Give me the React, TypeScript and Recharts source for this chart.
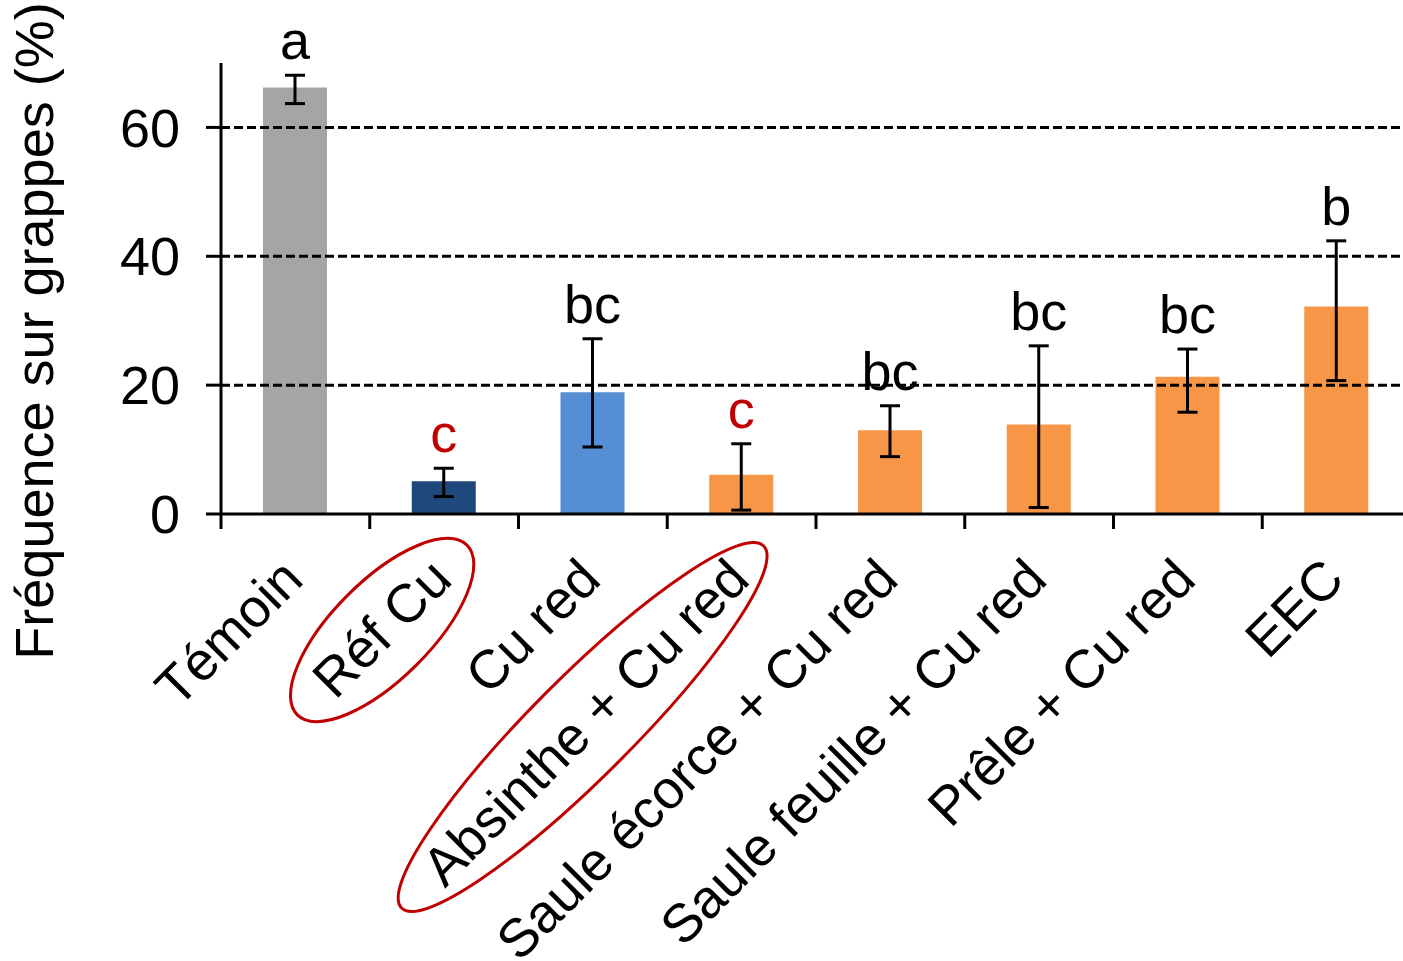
import React from "react";
import { BarChart, Bar, XAxis, YAxis, ReferenceLine, Cell, ErrorBar, LabelList } from "recharts";

const categories = [
  "Témoin",
  "Réf Cu",
  "Cu red",
  "Absinthe + Cu red",
  "Saule écorce + Cu red",
  "Saule feuille + Cu red",
  "Prêle + Cu red",
  "EEC",
];
const values = [66.2, 5.1, 18.9, 6.1, 13.0, 13.9, 21.3, 32.2];
const errLow = [63.7, 2.7, 10.4, 0.6, 8.9, 1.0, 15.8, 20.7];
const errHigh = [68.1, 7.1, 27.2, 10.9, 16.8, 26.1, 25.6, 42.4];
const sigLetters = ["a", "c", "bc", "c", "bc", "bc", "bc", "b"];
const sigRed = [false, true, false, true, false, false, false, false];
const circled = [false, true, false, true, false, false, false, false];
const yTicks = [0, 20, 40, 60];
const gridValues = [20, 40, 60];

const barColors = ["#A5A5A5", "#1F497D", "#558ED5", "#F79646", "#F79646", "#F79646", "#F79646", "#F79646"];
const RED = "#C00000";
const FONT = "'Liberation Sans', Arial, sans-serif";
const FS = 54;

const data = categories.map((name, i) => ({
  name,
  value: values[i],
  err: [values[i] - errLow[i], errHigh[i] - values[i]],
  sig: sigLetters[i],
}));

const CHART_W = 1417;
const Y_W = 221;
const M_RIGHT = 6;
const HALF_BAND = (CHART_W - Y_W - M_RIGHT) / categories.length / 2;

const ellipseStyle: Record<number, { dx: number; dy: number; rx: number; ry: number }> = {
  1: { dx: -62, dy: 116, rx: 120, ry: 49 },
  3: { dx: -159, dy: 213, rx: 256, ry: 50 },
};

const XTick = (props: any) => {
  const { x, y, payload } = props;
  let idx = payload && typeof payload.index === "number" ? payload.index : categories.indexOf(payload.value);
  if (idx < 0) idx = categories.indexOf(payload.value);
  const half = payload && typeof payload.offset === "number" && payload.offset > 0 ? payload.offset : HALF_BAND;
  const tx = x + 10;
  const ty = y + 68;
  const e = circled[idx] ? ellipseStyle[idx] : null;
  return (
    <g>
      <line x1={x - half} x2={x - half} y1={y} y2={y + 15} stroke="#000" strokeWidth={3} />
      <text
        x={tx}
        y={ty}
        transform={`rotate(-45, ${tx}, ${ty})`}
        textAnchor="end"
        fontSize={FS}
        fontFamily={FONT}
        fill="#000"
      >
        {payload.value}
      </text>
      {e && (
        <ellipse
          cx={x + e.dx}
          cy={y + e.dy}
          rx={e.rx}
          ry={e.ry}
          transform={`rotate(-45, ${x + e.dx}, ${y + e.dy})`}
          fill="none"
          stroke={RED}
          strokeWidth={3}
        />
      )}
    </g>
  );
};

const SigLabel = (props: any) => {
  const vb = props.viewBox && typeof props.viewBox.height === "number" ? props.viewBox : props;
  const x = Number(vb.x);
  const y = Number(vb.y);
  const w = Number(vb.width);
  const h = Number(vb.height);
  const idx = props.index;
  if (idx == null || isNaN(x)) return null;
  const base = y + h;
  const pxPerUnit = h / values[idx];
  const top = base - errHigh[idx] * pxPerUnit;
  return (
    <text
      x={x + w / 2}
      y={top - 16}
      textAnchor="middle"
      fontSize={FS}
      fontFamily={FONT}
      fill={sigRed[idx] ? RED : "#000"}
    >
      {sigLetters[idx]}
    </text>
  );
};

const YLabel = (props: any) => {
  const vb = props.viewBox || { x: 0 };
  const lx = (vb.x || 0) + 53;
  const ly = 331;
  return (
    <text
      x={lx}
      y={ly}
      transform={`rotate(-90, ${lx}, ${ly})`}
      textAnchor="middle"
      fontSize={FS}
      fontFamily={FONT}
      fill="#000"
    >
      Fréquence sur grappes (%)
    </text>
  );
};

export default function App() {
  return (
    <div
      style={{
        position: "fixed",
        left: 0,
        top: 0,
        width: 1403,
        height: 961,
        overflow: "hidden",
        background: "#fff",
      }}
    >
      <BarChart
        width={CHART_W}
        height={961}
        data={data}
        margin={{ top: 63, right: M_RIGHT, left: 0, bottom: 0 }}
      >
        {gridValues.map((g) => (
          <ReferenceLine
            key={g}
            y={g}
            stroke="#000"
            strokeWidth={3}
            strokeDasharray="9 4"
          />
        ))}
        <XAxis
          dataKey="name"
          height={447}
          interval={0}
          tickSize={0}
          tickMargin={0}
          tickLine={false}
          axisLine={{ stroke: "#000", strokeWidth: 3 }}
          tick={<XTick />}
        />
        <YAxis
          domain={[0, 70]}
          ticks={yTicks}
          width={Y_W}
          tickSize={15}
          tickMargin={26}
          axisLine={{ stroke: "#000", strokeWidth: 3 }}
          tickLine={{ stroke: "#000", strokeWidth: 3 }}
          tick={{ fontSize: FS, fill: "#000", fontFamily: FONT }}
          label={<YLabel />}
        />
        <Bar dataKey="value" barSize={64} isAnimationActive={false}>
          {data.map((d, i) => (
            <Cell key={d.name} fill={barColors[i]} />
          ))}
          <ErrorBar dataKey="err" width={10} stroke="#000" strokeWidth={3} isAnimationActive={false} />
          <LabelList dataKey="sig" content={<SigLabel />} />
        </Bar>
      </BarChart>
    </div>
  );
}
